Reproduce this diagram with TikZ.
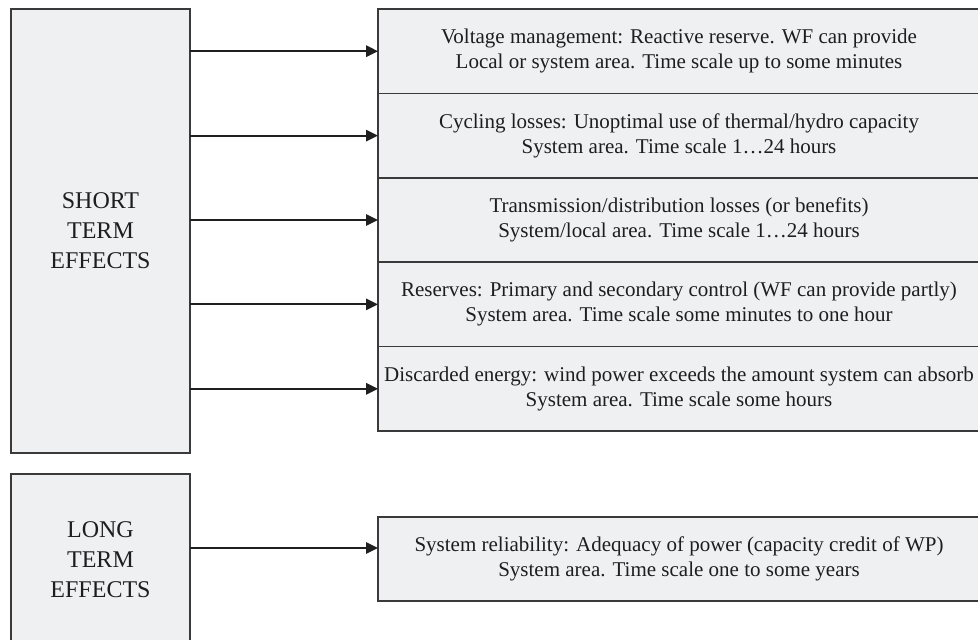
\documentclass[tikz,border=0pt]{standalone}
\usepackage{fontspec}
\setmainfont{Liberation Serif}
\usetikzlibrary{arrows.meta}
\definecolor{boxfill}{HTML}{EFF0F2}
\definecolor{boxline}{HTML}{3A3A3A}
\definecolor{txt}{HTML}{1E1E1E}
\begin{document}
\begin{tikzpicture}[x=0.75pt,y=-0.75pt,
  effbox/.style={draw=boxline,fill=boxfill,line width=1.1pt,rectangle,inner sep=0pt,outer sep=0pt,text=txt,align=center},
  leftbox/.style={effbox,minimum width=134.25pt,font=\fontsize{18}{22.5}\selectfont},
  rightbox/.style={effbox,minimum width=451.5pt,minimum height=63.3pt,font=\fontsize{15.75}{18.75}\selectfont},
  arr/.style={draw=black!88,line width=1.5pt,-{Triangle[length=9pt,width=8.5pt]}}]
\useasboundingbox (0,0) rectangle (978,639);
\clip (0,0) rectangle (978,639);
\fill[white] (0,0) rectangle (978,639);
% left boxes
\node[leftbox,minimum height=333pt] (short) at (100.5,231) {SHORT\\TERM\\EFFECTS};
\node[leftbox,minimum height=129pt] (long) at (100.5,560) {LONG\\TERM\\EFFECTS};
% right boxes
\node[rightbox] (r1) at (679,51.2) {Voltage management: Reactive reserve. WF can provide\\Local or system area. Time scale up to some minutes};
\node[rightbox] (r2) at (679,135.6) {Cycling losses: Unoptimal use of thermal/hydro capacity\\System area. Time scale 1…24 hours};
\node[rightbox] (r3) at (679,220) {Transmission/distribution losses (or benefits)\\System/local area. Time scale 1…24 hours};
\node[rightbox] (r4) at (679,304.4) {Reserves: Primary and secondary control (WF can provide partly)\\System area. Time scale some minutes to one hour};
\node[rightbox] (r5) at (679,388.8) {Discarded energy: wind power exceeds the amount system can absorb\\System area. Time scale some hours};
\node[rightbox] (lr) at (679,559) {System reliability: Adequacy of power (capacity credit of WP)\\System area. Time scale one to some years};
% arrows
\foreach \n in {r1,r2,r3,r4,r5}{
  \draw[arr] (\n.west -| short.east) -- (\n.west);
}
\coordinate (la) at ([yshift=8.25pt]lr.west);
\draw[arr] (la -| long.east) -- (la);
\end{tikzpicture}
\end{document}
